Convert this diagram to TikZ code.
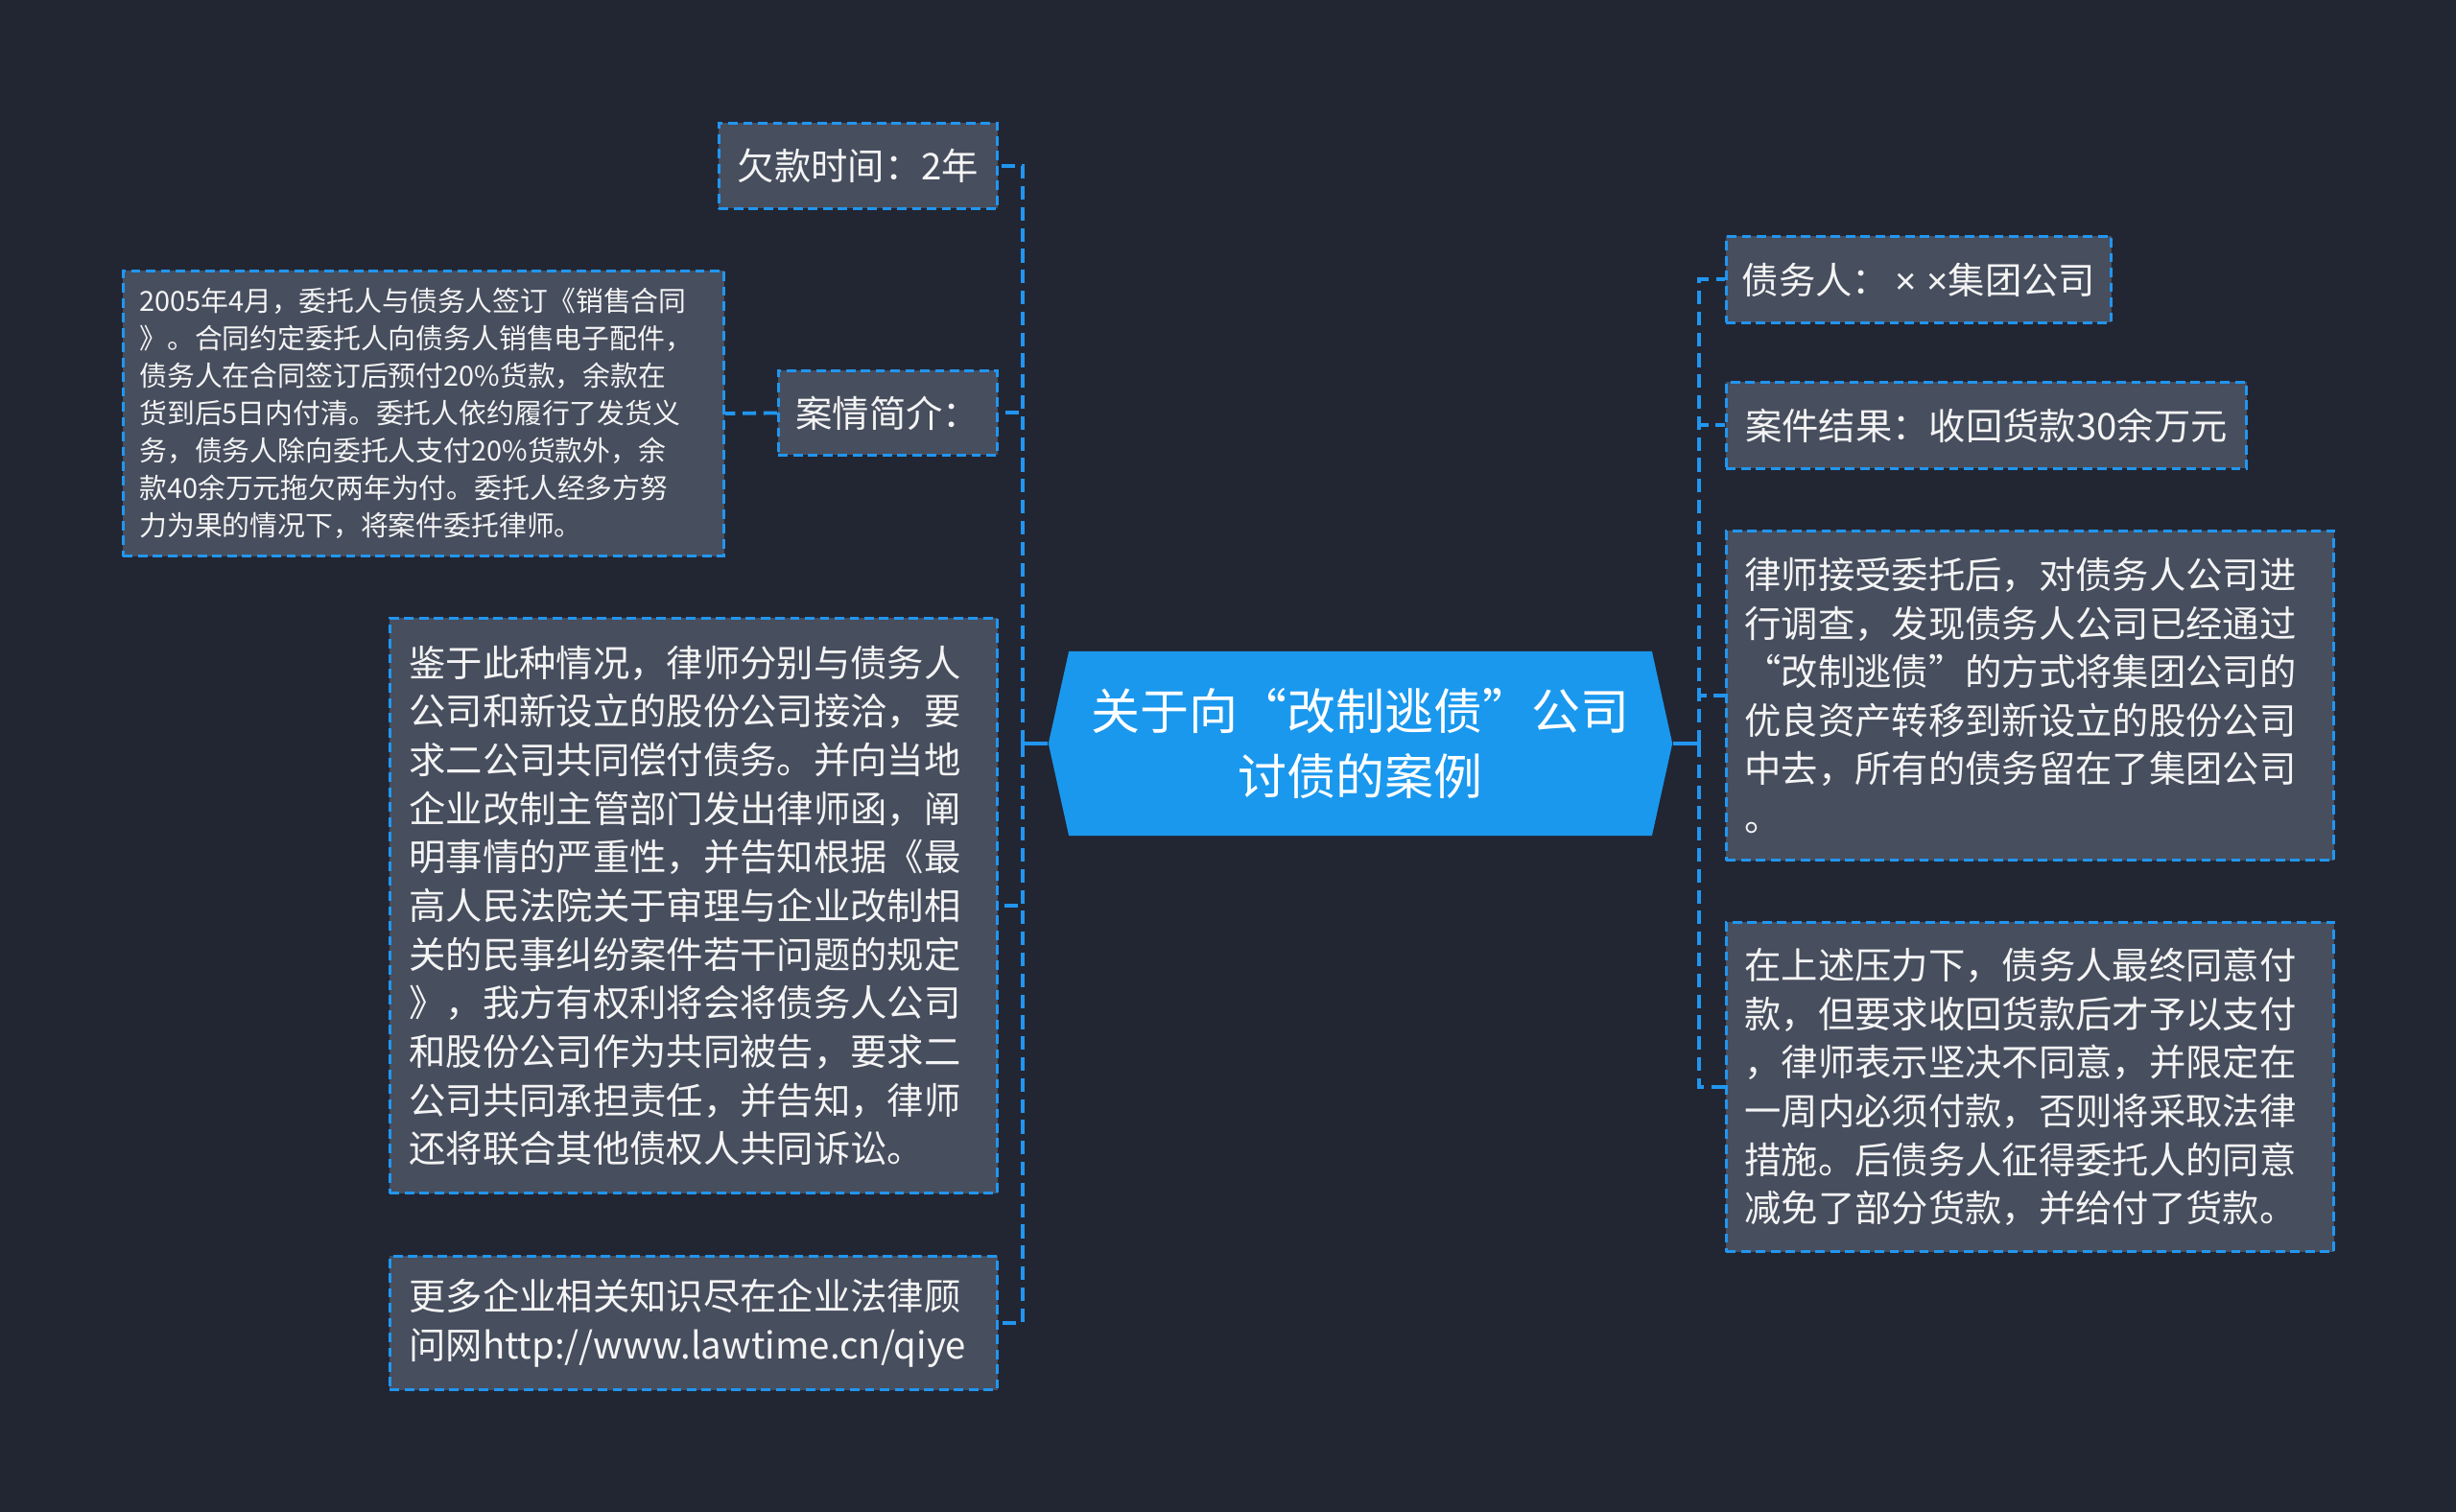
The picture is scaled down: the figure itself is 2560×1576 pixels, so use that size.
\documentclass[tikz,border=0pt]{standalone}
\usepackage{fontspec}
\setmainfont{Noto Sans CJK SC}
\newfontfamily\latinfont{Liberation Sans}
\usetikzlibrary{shapes.symbols}

\definecolor{bgdark}{HTML}{222633}
\definecolor{boxgray}{HTML}{474E5E}
\definecolor{lineblue}{HTML}{2196F0}
\definecolor{hubblue}{HTML}{1A98EE}
\definecolor{inkwhite}{HTML}{F4F4F4}

\tikzset{
  leaf/.style={rectangle, anchor=north west, draw=lineblue, line width=0.8pt,
    dash pattern=on 2.8pt off 1.6pt, fill=boxgray, text=inkwhite,
    inner ysep=0pt, font=\fontsize{10.9pt}{14.4pt}\selectfont},
  wide/.style={leaf, align=left, inner xsep=0.19cm, text width=5.95cm},
  branch/.style={draw=lineblue, line width=1.1pt, dash pattern=on 4pt off 2.2pt},
  stem/.style={draw=lineblue, line width=1.1pt}
}

\begin{document}
\begin{tikzpicture}[x=0.01cm,y=-0.01cm]

% background
\fill[bgdark] (0,0) rectangle (2560,1576);

% central topic
\node[signal, signal to=west and east, signal pointer angle=155, fill=hubblue,
  minimum width=6.5cm, minimum height=1.92cm, inner sep=0pt, text=white, align=center,
  font=\fontsize{14.5pt}{19.5pt}\selectfont] (hub) at (1418,775)
  {关于向“改制逃债”公司\\讨债的案例};

% left side
\node[leaf, minimum width=2.90cm, minimum height=0.89cm] (owed) at (748,127) {欠款时间：2年};
\node[leaf, minimum width=2.28cm, minimum height=0.88cm] (intro) at (810,385) {案情简介：};
\node[leaf, align=left, inner xsep=0.17cm, text width=5.92cm, minimum height=2.97cm,
  font=\fontsize{8.2pt}{11.1pt}\selectfont] (detail) at (127,281)
  {2005年4月，委托人与债务人签订《销售合同\\
   》。合同约定委托人向债务人销售电子配件，\\
   债务人在合同签订后预付20\%货款，余款在\\
   货到后5日内付清。委托人依约履行了发货义\\
   务，债务人除向委托人支付20\%货款外，余\\
   款40余万元拖欠两年为付。委托人经多方努\\
   力为果的情况下，将案件委托律师。};
\node[wide, inner xsep=0.2cm, text width=5.93cm, minimum height=5.99cm] (steps) at (405,643)
  {鉴于此种情况，律师分别与债务人\\
   公司和新设立的股份公司接洽，要\\
   求二公司共同偿付债务。并向当地\\
   企业改制主管部门发出律师函，阐\\
   明事情的严重性，并告知根据《最\\
   高人民法院关于审理与企业改制相\\
   关的民事纠纷案件若干问题的规定\\
   》，我方有权利将会将债务人公司\\
   和股份公司作为共同被告，要求二\\
   公司共同承担责任，并告知，律师\\
   还将联合其他债权人共同诉讼。};
\node[wide, inner xsep=0.2cm, text width=5.93cm, minimum height=1.39cm] (more) at (405,1308)
  {更多企业相关知识尽在企业法律顾\\
   问网http://www.lawtime.cn/qiye};

% right side
\node[leaf, minimum width=4.01cm, minimum height=0.90cm] (debtor) at (1798,245)
  {债务人：\,{\latinfont × ×}集团公司};
\node[leaf, minimum width=5.42cm, minimum height=0.90cm] (result) at (1798,397) {案件结果：收回货款30余万元};
\node[wide, minimum height=3.43cm] (probe) at (1798,552)
  {律师接受委托后，对债务人公司进\\
   行调查，发现债务人公司已经通过\\
   “改制逃债”的方式将集团公司的\\
   优良资产转移到新设立的股份公司\\
   中去，所有的债务留在了集团公司\\
   。};
\node[wide, minimum height=3.43cm] (settle) at (1798,960)
  {在上述压力下，债务人最终同意付\\
   款，但要求收回货款后才予以支付\\
   ，律师表示坚决不同意，并限定在\\
   一周内必须付款，否则将采取法律\\
   措施。后债务人征得委托人的同意\\
   减免了部分货款，并给付了货款。};

% connectors
\coordinate (ljoint) at (1066,775);
\coordinate (rjoint) at (1771,775);
\draw[stem] (hub.west) -- (ljoint);
\draw[stem] (hub.east) -- (rjoint);
\foreach \n in {owed,intro,steps,more}
  \draw[branch] (ljoint) |- (\n.east);
\foreach \n in {debtor,result,probe,settle}
  \draw[branch] (rjoint) |- (\n.west);
\draw[branch] (intro.west) -- (detail.east);

\end{tikzpicture}
\end{document}
